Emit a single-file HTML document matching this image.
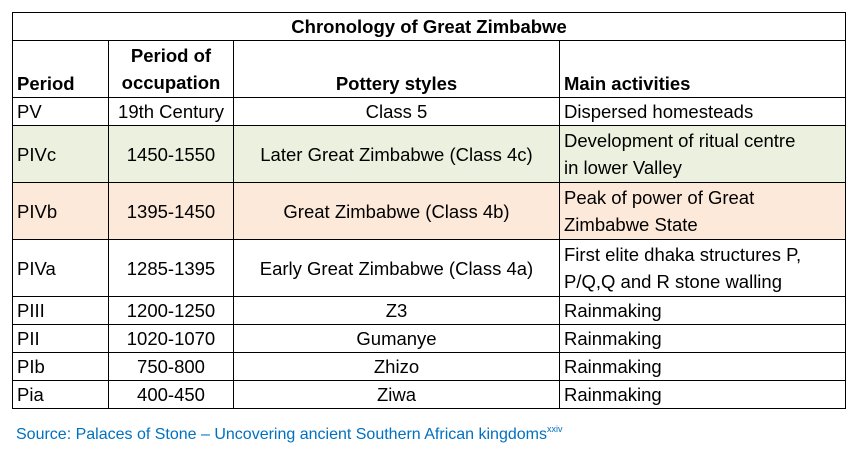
<!DOCTYPE html>
<html><head><meta charset="utf-8"><style>
html,body{margin:0;padding:0;background:#fff;width:855px;height:453px;overflow:hidden;font-family:"Liberation Sans",sans-serif;color:#000}
table{position:absolute;left:12px;top:12px;border-collapse:collapse;table-layout:fixed;width:833px}
td{border:1.5px solid #000;padding:0 4px;font-size:18.5px;line-height:27px;vertical-align:middle;white-space:nowrap;overflow:hidden}
.c{text-align:center}
.b{font-weight:bold}
.g td{background:#EBF1DE}
.p td{background:#FDE9D9}
.s{height:28px}
.d{height:57px}
.src{position:absolute;left:16px;top:424px;font-size:16px;color:#0070C0;white-space:nowrap}
.src sup{font-size:9px;vertical-align:7px}
</style></head><body>
<table>
<colgroup><col style="width:96px"><col style="width:125px"><col style="width:326px"><col style="width:286px"></colgroup>
<tr class="s"><td colspan="4" class="c b">Chronology of Great Zimbabwe</td></tr>
<tr class="d"><td class="b" style="vertical-align:bottom">Period</td><td class="c b">Period of<br>occupation</td><td class="c b" style="vertical-align:bottom">Pottery styles</td><td class="b" style="vertical-align:bottom">Main activities</td></tr>
<tr class="s"><td>PV</td><td class="c">19th Century</td><td class="c">Class 5</td><td>Dispersed homesteads</td></tr>
<tr class="g d"><td>PIVc</td><td class="c">1450-1550</td><td class="c">Later Great Zimbabwe (Class 4c)</td><td>Development of ritual centre<br>in lower Valley</td></tr>
<tr class="p d"><td>PIVb</td><td class="c">1395-1450</td><td class="c">Great Zimbabwe (Class 4b)</td><td>Peak of power of Great<br>Zimbabwe State</td></tr>
<tr class="d"><td>PIVa</td><td class="c">1285-1395</td><td class="c">Early Great Zimbabwe (Class 4a)</td><td>First elite dhaka structures P,<br>P/Q,Q and R stone walling</td></tr>
<tr class="s"><td>PIII</td><td class="c">1200-1250</td><td class="c">Z3</td><td>Rainmaking</td></tr>
<tr class="s"><td>PII</td><td class="c">1020-1070</td><td class="c">Gumanye</td><td>Rainmaking</td></tr>
<tr class="s"><td>PIb</td><td class="c">750-800</td><td class="c">Zhizo</td><td>Rainmaking</td></tr>
<tr class="s"><td>Pia</td><td class="c">400-450</td><td class="c">Ziwa</td><td>Rainmaking</td></tr>
</table>
<div class="src">Source: Palaces of Stone – Uncovering ancient Southern African kingdoms<sup>xxiv</sup></div>
</body></html>
